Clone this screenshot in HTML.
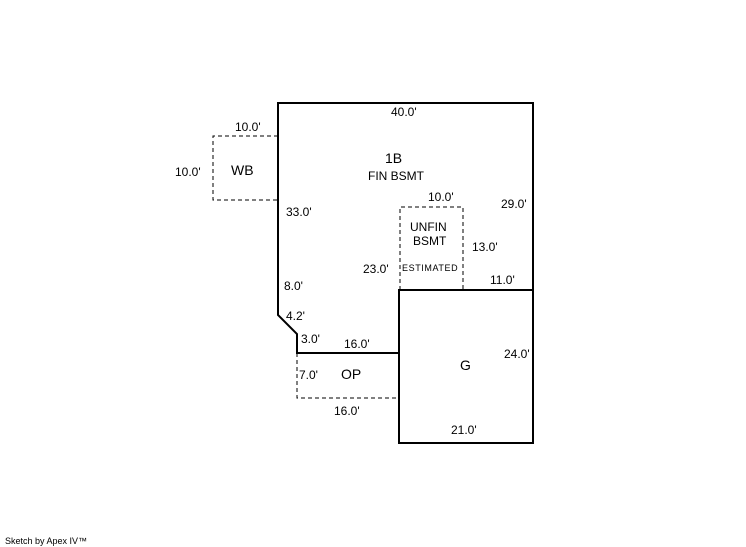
<!DOCTYPE html>
<html><head><style>
html,body{margin:0;padding:0;background:#fff;}
svg{display:block}
text{font-family:"Liberation Sans",Arial,sans-serif;font-size:12px;fill:#000}
</style></head><body>
<svg width="746" height="547" viewBox="0 0 746 547" xmlns="http://www.w3.org/2000/svg">
<g fill="none" stroke="#000" stroke-width="2">
<polyline points="399,353 297,353 297,334 278,315 278,103 533,103 533,443 399,443 399,290 533,290"/>
<line x1="399" y1="290" x2="399" y2="353"/>
</g>
<g fill="none" stroke="#000" stroke-width="1" stroke-dasharray="4,3">
<polyline points="278,136 213,136 213,200 278,200"/>
<polyline points="297,353 297,398 399,398"/>
<polyline points="400,290 400,207 463,207 463,290"/>
</g>
<text x="391" y="116">40.0'</text>
<text x="235" y="131">10.0'</text>
<text x="175" y="176">10.0'</text>
<text x="231" y="175" style="font-size:14px">WB</text>
<text x="385" y="163" style="font-size:14px">1B</text>
<text x="368" y="180">FIN BSMT</text>
<text x="428" y="201">10.0'</text>
<text x="501" y="208">29.0'</text>
<text x="286" y="216">33.0'</text>
<text x="410" y="231">UNFIN</text>
<text x="413" y="245">BSMT</text>
<text x="472" y="251">13.0'</text>
<text x="363" y="273">23.0'</text>
<text x="402" y="271" style="font-size:9px;letter-spacing:0.6px">ESTIMATED</text>
<text x="490" y="284">11.0'</text>
<text x="284" y="290">8.0'</text>
<text x="286" y="320">4.2'</text>
<text x="301" y="343">3.0'</text>
<text x="344" y="348">16.0'</text>
<text x="504" y="358">24.0'</text>
<text x="460" y="370" style="font-size:14px">G</text>
<text x="299" y="379">7.0'</text>
<text x="341" y="379" style="font-size:14px">OP</text>
<text x="334" y="415">16.0'</text>
<text x="451" y="434">21.0'</text>
<text x="5" y="544" style="font-size:9px">Sketch by Apex IV™</text>
</svg>
</body></html>
